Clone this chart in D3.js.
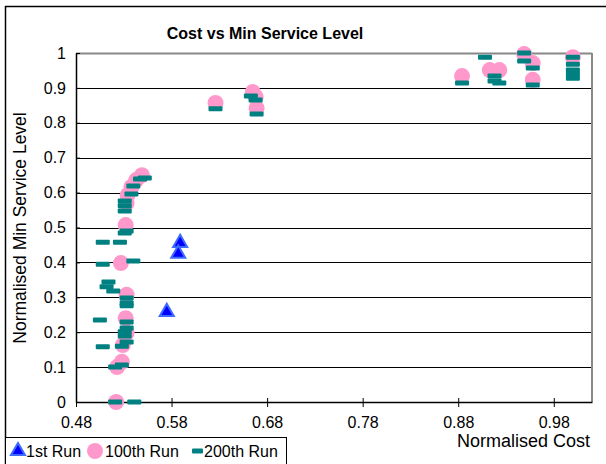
<!DOCTYPE html>
<html>
<head>
<meta charset="utf-8">
<script src="https://cdn.jsdelivr.net/npm/d3@7"></script>
<style>
  body { margin: 0; background: #fff; }
  svg { font-family: "Liberation Sans", Arial, sans-serif; }
</style>
</head>
<body>
<div id="chart"></div>
<script>
// data: [cost, service level]
var run1 = [[0.589, 0.456], [0.587, 0.425], [0.575, 0.258]];

var run100 = [
  [0.522, 0.0], [0.523, 0.10], [0.528, 0.115], [0.527, 0.398], [0.533, 0.307],
  [0.532, 0.24], [0.533, 0.198], [0.529, 0.163], [0.532, 0.507], [0.533, 0.57],
  [0.534, 0.593], [0.538, 0.616], [0.543, 0.636], [0.549, 0.65],
  [0.626, 0.857], [0.665, 0.888], [0.668, 0.874], [0.669, 0.842],
  [0.884, 0.934], [0.913, 0.951], [0.923, 0.951], [0.949, 0.997],
  [0.958, 0.971], [0.958, 0.923], [1.0, 0.988]
];

var run200 = [
  [0.508, 0.458], [0.526, 0.458], [0.531, 0.484], [0.533, 0.49],
  [0.508, 0.395], [0.540, 0.404], [0.514, 0.344], [0.512, 0.330], [0.519, 0.318],
  [0.533, 0.298], [0.533, 0.284], [0.533, 0.276], [0.505, 0.235], [0.533, 0.229],
  [0.533, 0.212], [0.531, 0.201], [0.531, 0.189], [0.533, 0.172], [0.508, 0.158],
  [0.528, 0.160], [0.528, 0.106], [0.521, 0.100], [0.521, 0.0], [0.541, 0.0],
  [0.531, 0.576], [0.531, 0.562], [0.531, 0.547], [0.538, 0.596], [0.540, 0.619],
  [0.547, 0.639], [0.552, 0.642],
  [0.626, 0.84], [0.663, 0.877], [0.668, 0.865], [0.669, 0.825],
  [0.884, 0.914], [0.908, 0.988], [0.918, 0.934], [0.918, 0.920], [0.923, 0.914],
  [0.949, 1.0], [0.949, 0.977], [0.958, 0.957], [0.958, 0.908],
  [1.0, 0.988], [1.0, 0.968], [1.0, 0.951], [1.0, 0.94], [1.0, 0.928]
];

var xTicks = [0.48, 0.58, 0.68, 0.78, 0.88, 0.98];
var yTicks = [0, 0.1, 0.2, 0.3, 0.4, 0.5, 0.6, 0.7, 0.8, 0.9, 1];
var legendNames = ["1st Run", "100th Run", "200th Run"];

var width = 606, height = 464;
var margin = {top: 53, right: 14, bottom: 62, left: 76};

var svg = d3.select("#chart").append("svg")
    .attr("width", width)
    .attr("height", height);

// outer chart frame
svg.append("line").attr("x1", 5).attr("x2", 606).attr("y1", 6.5).attr("y2", 6.5)
    .attr("stroke", "#000").attr("stroke-width", 1.5);
svg.append("line").attr("x1", 5.5).attr("x2", 5.5).attr("y1", 6).attr("y2", 464)
    .attr("stroke", "#000").attr("stroke-width", 1.5);

var x = d3.scaleLinear().domain([0.48, 1.02]).range([margin.left, width - margin.right]);
var y = d3.scaleLinear().domain([0, 1]).range([height - margin.bottom, margin.top]);

// gridlines
svg.append("g").selectAll("line")
    .data(yTicks.slice(1))
    .enter().append("line")
    .attr("x1", x(0.48)).attr("x2", x(1.02))
    .attr("y1", function(d) { return Math.round(y(d)) + 0.5; })
    .attr("y2", function(d) { return Math.round(y(d)) + 0.5; })
    .attr("stroke", function(d) { return d === 1 ? "#888" : "#000"; })
    .attr("stroke-width", function(d) { return d === 1 ? 2 : 1; });

// plot right border
svg.append("line")
    .attr("x1", x(1.02)).attr("x2", x(1.02))
    .attr("y1", y(1)).attr("y2", y(0))
    .attr("stroke", "#888").attr("stroke-width", 2);

// axes
var xAxis = svg.append("g")
    .attr("transform", "translate(0," + y(0) + ")")
    .call(d3.axisBottom(x).tickValues(xTicks).tickSize(5).tickSizeOuter(0)
        .tickFormat(d3.format(".2f")));
xAxis.select(".domain").attr("stroke", "#000").attr("stroke-width", 1.5);
xAxis.selectAll(".tick line").attr("y1", -4);
xAxis.selectAll("text").attr("font-size", 16).attr("dy", "1.1em").attr("fill", "#000");

var yAxis = svg.append("g")
    .attr("transform", "translate(" + x(0.48) + ",0)")
    .call(d3.axisLeft(y).tickValues(yTicks).tickSize(5).tickSizeOuter(0)
        .tickFormat(function(d) { return d === 0 || d === 1 ? d : d3.format(".1f")(d); }));
yAxis.select(".domain").attr("stroke", "#000").attr("stroke-width", 1.5);
yAxis.selectAll(".tick line").attr("x2", 4);
yAxis.selectAll("text").attr("font-size", 16).attr("x", -10).attr("fill", "#000");

// series
var tri = d3.symbol().type(d3.symbolTriangle).size(85);

svg.append("g").selectAll("path")
    .data(run1)
    .enter().append("path")
    .attr("d", tri)
    .attr("transform", function(d) { return "translate(" + x(d[0]) + "," + y(d[1]) + ")"; })
    .attr("fill", "#0000ff")
    .attr("stroke", "#3d6bff")
    .attr("stroke-width", 2);

svg.append("g").selectAll("circle")
    .data(run100)
    .enter().append("circle")
    .attr("cx", function(d) { return x(d[0]); })
    .attr("cy", function(d) { return y(d[1]); })
    .attr("r", 8)
    .attr("fill", "#ff99cc");

svg.append("g").selectAll("rect")
    .data(run200)
    .enter().append("rect")
    .attr("x", function(d) { return x(d[0]) - 7; })
    .attr("y", function(d) { return y(d[1]) - 2.5; })
    .attr("width", 14)
    .attr("height", 5)
    .attr("rx", 1)
    .attr("fill", "#008080");

// titles
svg.append("text")
    .attr("x", 265).attr("y", 39)
    .attr("text-anchor", "middle")
    .attr("font-size", 16).attr("font-weight", "bold")
    .text("Cost vs Min Service Level");

svg.append("text")
    .attr("transform", "translate(26,228) rotate(-90)")
    .attr("text-anchor", "middle")
    .attr("font-size", 17.5)
    .text("Normalised Min Service Level");

svg.append("text")
    .attr("x", 590).attr("y", 447)
    .attr("text-anchor", "end")
    .attr("font-size", 18)
    .text("Normalised Cost");

// legend
var legend = svg.append("g");
legend.append("rect")
    .attr("x", 5.5).attr("y", 437.5).attr("width", 281).attr("height", 30)
    .attr("fill", "#fff").attr("stroke", "#000");

var legX = [12, 95, 193];
var items = legend.selectAll("g.item")
    .data(legendNames)
    .enter().append("g")
    .attr("class", "item")
    .attr("transform", function(d, i) { return "translate(" + legX[i] + ",451)"; });

items.each(function(d, i) {
  var g = d3.select(this);
  if (i === 0) {
    g.append("path").attr("d", tri).attr("transform", "translate(6,0)")
        .attr("fill", "#0000ff").attr("stroke", "#3d6bff").attr("stroke-width", 2);
  } else if (i === 1) {
    g.append("circle").attr("cx", 0).attr("cy", 0).attr("r", 8).attr("fill", "#ff99cc");
  } else {
    g.append("rect").attr("x", -1).attr("y", -2.5).attr("width", 11).attr("height", 5)
        .attr("rx", 1).attr("fill", "#008080");
  }
  g.append("text")
    .attr("x", i === 0 ? 14 : (i === 1 ? 10 : 11))
    .attr("y", 6)
    .attr("font-size", 16)
    .text(d);
});
</script>
</body>
</html>
